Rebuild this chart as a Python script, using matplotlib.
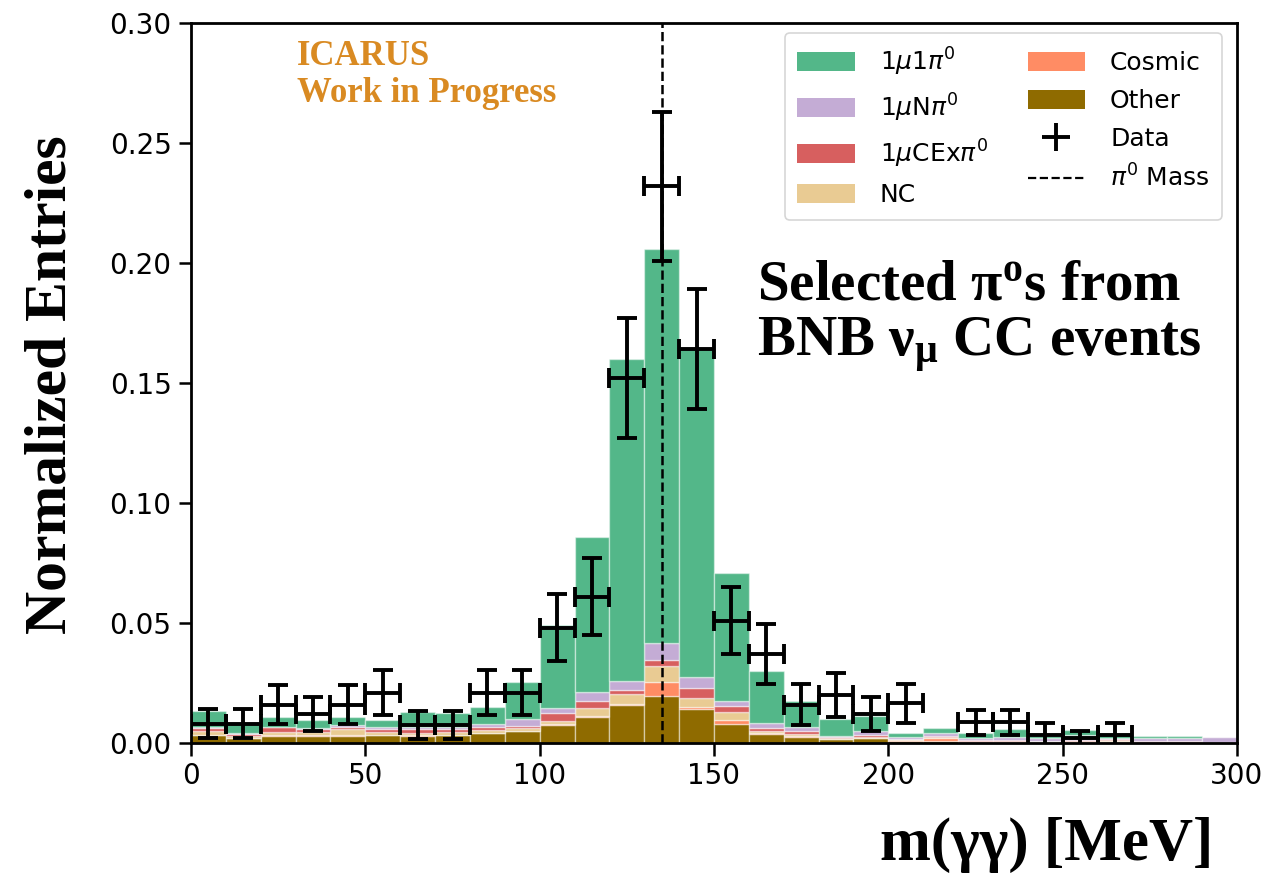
import numpy as np
import matplotlib
matplotlib.use("Agg")
import matplotlib.pyplot as plt
from matplotlib.patches import Patch
from matplotlib.lines import Line2D

plt.rcParams['mathtext.bf'] = 'Liberation Serif:bold'
plt.rcParams['mathtext.rm'] = 'Liberation Serif:bold'
plt.rcParams['mathtext.it'] = 'Liberation Serif:bold'

# ---- data (bin edges 0..300 MeV, 10 MeV bins); values in normalized entries ----
bin_edges = np.arange(0, 310, 10)

other = np.array([.33, .19, .31, .31, .31, .33, .31, .33, .40, .50, .75, 1.10, 1.58, 1.96, 1.43,
                  .79, .36, .26, .15, .20, .10, .10, .05, .05, .04, .05, .05, .03, .02, 0.0]) / 100
cosmic = np.array([.02, .01, .01, .01, .02, .01, .01, .01, .02, .02, .05, .02, .04, .60, .07,
                   .17, .04, .02, .01, .01, .01, .10, .02, .01, .01, .01, .05, .01, .01, 0.0]) / 100
nc = np.array([.15, .08, .15, .12, .24, .13, .08, .13, .12, .09, .13, .35, .41, .65, .36,
               .34, .11, .08, .04, .04, .04, .05, .03, .03, .03, .04, .03, .02, .02, .02]) / 100
cex = np.array([.11, .08, .18, .13, .08, .10, .17, .10, .11, .11, .33, .28, .18, .25, .45,
                .24, .13, .15, .05, .08, .03, .05, .03, .03, .02, .04, .02, .02, .02, .01]) / 100
npi = np.array([.07, .04, .03, .04, .10, .08, .08, .11, .14, .28, .21, .39, .39, .72, .45,
                .22, .18, .17, .06, .18, .08, .10, .09, .14, .10, .19, .07, .14, .12, .23]) / 100
onepi = np.array([.67, .40, .39, .35, .35, .31, .65, .56, .70, 1.53, 3.43, 6.46, 13.40, 16.42, 13.64,
                  5.34, 2.18, 1.07, .70, .61, .14, .24, .18, .31, .11, .21, .18, .09, .12, 0.0]) / 100

data_x = np.array([5, 15, 25, 35, 45, 55, 65, 75, 85, 95, 105, 115, 125, 135, 145,
                   155, 165, 175, 185, 195, 205, 225, 235, 245, 255, 265])
data_y = np.array([.8, .8, 1.6, 1.2, 1.6, 2.1, .75, .75, 2.1, 2.1, 4.8, 6.1, 15.2, 23.2, 16.4,
                   5.1, 3.7, 1.6, 2.0, 1.2, 1.65, .87, .87, .33, .2, .33]) / 100
data_err = np.array([.6, .6, .8, .7, .8, .95, .6, .6, .95, .95, 1.4, 1.6, 2.5, 3.1, 2.5,
                     1.4, 1.25, .85, .9, .72, .82, .52, .52, .5, .3, .5]) / 100

pi0_mass = 134.98

labels = [r'$1\mu1\pi^0$', r'$1\mu\mathrm{N}\pi^0$', r'$1\mu\mathrm{CEx}\pi^0$', 'NC', 'Cosmic', 'Other']
colors = {'onepi': '#53b789', 'npi': '#c4acd5', 'cex': '#d75f5f',
          'nc': '#e9cb93', 'cosmic': '#ff8c64', 'other': '#8f6b00'}

fig = plt.figure(figsize=(12.66, 8.76), dpi=100)
ax = fig.add_axes([191/1266, 1-743/876, (1237-191)/1266, (743-23)/876])

left = bin_edges[:-1]
width = np.diff(bin_edges)
bottom = np.zeros(len(left))
stack = [('other', other), ('cosmic', cosmic), ('nc', nc), ('cex', cex), ('npi', npi), ('onepi', onepi)]
for key, vals in stack:
    ax.bar(left, vals, width=width, bottom=bottom, align='edge', color=colors[key],
           edgecolor=(1, 1, 1, 0.45), linewidth=1.0)
    bottom = bottom + vals

ax.errorbar(data_x, data_y, xerr=5, yerr=data_err, fmt='none', ecolor='black',
            elinewidth=2.8, capsize=7, capthick=2.8, zorder=5)
ax.axvline(pi0_mass, color='black', linestyle='--', linewidth=1.8, zorder=6)

ax.set_xlim(0, 300)
ax.set_ylim(0, 0.30)
ax.set_yticks(np.arange(0, 0.301, 0.05))
ax.set_yticklabels([f'{v:.2f}' for v in np.arange(0, 0.301, 0.05)])
ax.set_xticks([0, 50, 100, 150, 200, 250, 300])
ax.tick_params(axis='both', labelsize=20, length=9, width=1.8, direction='out', pad=5)
for s in ax.spines.values():
    s.set_linewidth(2.0)

handles = [Patch(facecolor=colors['onepi'], label=labels[0]),
           Patch(facecolor=colors['npi'], label=labels[1]),
           Patch(facecolor=colors['cex'], label=labels[2]),
           Patch(facecolor=colors['nc'], label=labels[3]),
           Patch(facecolor=colors['cosmic'], label=labels[4]),
           Patch(facecolor=colors['other'], label=labels[5]),
           Line2D([], [], color='black', marker='+', markersize=20, mew=2.8, linestyle='none', label='Data'),
           Line2D([], [], color='black', linestyle='--', linewidth=1.6, label=r'$\pi^0$ Mass')]
leg = ax.legend(handles=handles, ncol=2, loc='upper right', fontsize=18, frameon=True,
                labelspacing=0.55, handlelength=2.3, handleheight=0.8, columnspacing=1.6,
                handletextpad=1.0, borderpad=0.5, borderaxespad=0.0,
                bbox_to_anchor=(0.986, 0.986))
leg.get_frame().set_edgecolor('#cccccc')
leg.get_frame().set_linewidth(1.2)

serif = 'Liberation Serif'
fig.text(0.041, 1-385/876, 'Normalized Entries', rotation=90, fontsize=43, fontweight='bold',
         family=serif, ha='center', va='center')
fig.text(880/1266, 1-845/876, 'm(γγ) [MeV]', fontsize=44, fontweight='bold', family=serif,
         ha='left', va='center')
fig.text(297/1266, 1-40/876, 'ICARUS\nWork in Progress', fontsize=25, fontweight='bold', family=serif,
         color='#d98a22', ha='left', va='top', linespacing=1.15)
fig.text(757/1266, 1-285/876, r'Selected $\mathbf{π^{o}}$s from', fontsize=41, fontweight='bold',
         family=serif, ha='left', va='center', math_fontfamily='custom')
fig.text(757/1266, 1-345/876, r'BNB $\mathbf{ν_{μ}}$ CC events', fontsize=41, fontweight='bold',
         family=serif, ha='left', va='center', math_fontfamily='custom')

fig.savefig('out.png', dpi=100)
